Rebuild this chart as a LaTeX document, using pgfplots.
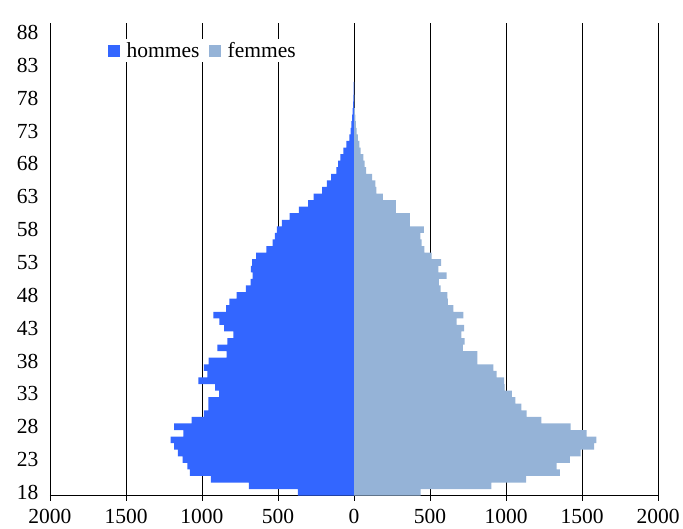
\documentclass[border=0pt]{standalone}
\usepackage{pgfplots}
\pgfplotsset{compat=1.18}
\usepackage{pgfplotstable}
\usepackage{fontspec}
\setmainfont{Liberation Serif}

\definecolor{hommes}{RGB}{51,102,255}
\definecolor{femmes}{RGB}{149,179,215}

% age, hommes, femmes
\pgfplotstableread{
age  h     f
18   370   439
19   691   903
20   941   1132
21   1079  1355
22   1097  1333
23   1127  1421
24   1158  1491
25   1184  1579
26   1206  1594
27   1123  1531
28   1184  1425
29   1068  1232
30   987   1136
31   958   1101
32   958   1061
33   888   1039
34   914   991
35   1024  987
36   965   939
37   987   917
38   956   811
39   838   811
40   899   717
41   833   728
42   794   706
43   855   724
44   886   675
45   925   719
46   842   654
47   820   618
48   772   614
49   711   570
50   680   559
51   667   610
52   678   555
53   671   573
54   644   511
55   576   463
56   535   445
57   520   437
58   507   459
59   474   367
60   424   367
61   362   275
62   301   275
63   266   190
64   210   148
65   179   140
66   151   119
67   116   79
68   105   70
69   90    61
70   70    44
71   50    35
72   30    26
73   22    17
74   18    13
75   12    9
76   9     5
77   6     3
78   4     2
79   3     1
80   2     1
}\pyramide

\begin{document}
\begin{tikzpicture}
\begin{axis}[
    scale only axis,
    width=608pt, height=473pt,
    xmin=-2000, xmax=2000,
    ymin=17.5, ymax=89.5,
    axis lines=left,
    axis line style={-, black, line width=0.8pt},
    xtick={-2000,-1500,...,2000},
    xticklabels={2000,1500,1000,500,0,500,1000,1500,2000},
    ytick={18,23,...,88},
    xmajorgrids,
    major grid style={black, line width=0.8pt},
    xtick style={black, line width=0.8pt},
    ytick style={draw=none},
    xtick align=outside,
    major tick length=5pt,
    tick label style={font=\fontsize{21.5}{24}\selectfont},
    /pgf/number format/assume math mode=true,
    xticklabel style={yshift=-5pt},
    yticklabel style={xshift=-3pt},
    xbar, bar width=1, bar shift=0pt,
    legend columns=2,
    legend style={at={(0.093,0.965)}, anchor=north west, draw=none, fill=white,
        font=\fontsize{21.5}{24}\selectfont, inner sep=1pt,
        /tikz/every even column/.append style={column sep=7pt}},
    legend image code/.code={\fill[#1] (0pt,-6pt) rectangle (12pt,6pt); \path (17pt,0pt);},
]
\addplot[draw=none, fill=hommes] table[x expr=-\thisrow{h}, y=age] {\pyramide};
\addlegendentry{hommes}
\addplot[draw=none, fill=femmes] table[x=f, y=age] {\pyramide};
\addlegendentry{femmes}
\end{axis}
\path[use as bounding box] (-50pt,-33.3pt) rectangle (633pt,495.7pt);
\end{tikzpicture}
\end{document}
